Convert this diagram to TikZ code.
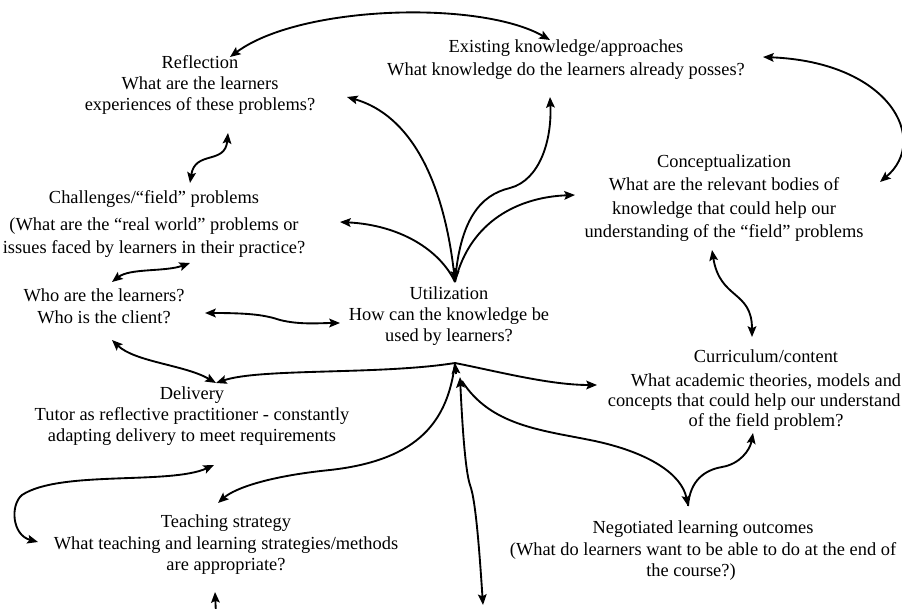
\documentclass[tikz,border=0pt]{standalone}
\usepackage{fontspec}
\setmainfont{Liberation Serif}
\usetikzlibrary{arrows.meta}
\begin{document}
\begin{tikzpicture}[x=0.75pt,y=-0.75pt,
  >={Stealth[length=8pt,width=6.5pt,inset=1.5pt]},
  txt/.style={align=center, inner sep=0pt, font=\fontsize{13.8}{#1}\selectfont},
  txt/.default=16.2,
  link/.style={line width=1.4pt, ->},
  twoway/.style={line width=1.4pt, <->}]
\useasboundingbox (0,0) rectangle (902,609);
\clip (0,0) rectangle (902,609);

% ---- text blocks ----
\node[txt=16.1] (refl) at (200,85) {Reflection\\What are the learners\\experiences of these problems?};
\node[txt=17.3] (exist) at (566,59.5) {Existing knowledge/approaches\\What knowledge do the learners already posses?};
\node[txt=17.5] (concept) at (724,198) {Conceptualization\\What are the relevant bodies of\\knowledge that could help our\\understanding of the ``field'' problems};
\node[txt=17.3] (chall) at (154,224) {Challenges/``field'' problems\\[3pt](What are the ``real world'' problems or\\issues faced by learners in their practice?};
\node[txt=16.5] (who) at (104,306) {Who are the learners?\\Who is the client?};
\node[txt=16] (util) at (449,316) {Utilization\\How can the knowledge be\\used by learners?};
\node[txt=15.8] (deliv) at (192,416) {Delivery\\Tutor as reflective practitioner - constantly\\adapting delivery to meet requirements};
\node[txt=14.8] (curric) at (766,390) {Curriculum/content\\[3pt]What academic theories, models and\\concepts that could help our understand\phantom{ing}\\of the field problem?};
\node[txt=16.1] (teach) at (226,545) {Teaching strategy\\What teaching and learning strategies/methods\\are appropriate?};
\node[txt=16.1] (neg) at (703,551) {Negotiated learning outcomes\\(What do learners want to be able to do at the end of\\the course?)\hspace*{18pt}};

% ---- connector ends ----
\coordinate (hubU) at (455,282);
\coordinate (hubL) at (455,363);
\coordinate (hubV) at (460,377);
\coordinate (reflTop) at (230,57);
\coordinate (reflSide) at (347,97);
\coordinate (reflFoot) at (228,133);
\coordinate (existTop) at (550,40);
\coordinate (existFoot) at (550,97);
\coordinate (existSide) at (763,57);
\coordinate (conceptSide) at (575,195);
\coordinate (conceptTop) at (880,182);
\coordinate (conceptFoot) at (712,250);
\coordinate (challTop) at (190,183);
\coordinate (challSide) at (340,222);
\coordinate (challFoot) at (190,263);
\coordinate (whoTop) at (112,282);
\coordinate (whoSide) at (205,313);
\coordinate (whoFoot) at (112,340);
\coordinate (utilSide) at (340,323);
\coordinate (delivTop) at (216,383);
\coordinate (delivFoot) at (214,465);
\coordinate (curricTop) at (752,337);
\coordinate (curricSide) at (597,385);
\coordinate (curricFoot) at (753,433);
\coordinate (teachTop) at (218,503);
\coordinate (teachSide) at (38,542);
\coordinate (teachFoot) at (215,592);
\coordinate (teachEdge) at (216,615);
\coordinate (negTop) at (688,506);
\coordinate (bottomEnd) at (483,605);

% ---- upper hub: Utilization ----
\draw[link] (hubU) .. controls (445,180) and (410,115) .. (reflSide);
\draw[link] (hubU) .. controls (460,220) and (480,195) .. (510,188)
                   .. controls (540,180) and (552,140) .. (existFoot);
\draw[link] (hubU) .. controls (470,220) and (520,197) .. (conceptSide);
\draw[link] (hubU) .. controls (440,250) and (400,225) .. (challSide);
\draw[link] (455,268) -- (hubU);

% ---- lower hub ----
\draw[link] (hubL) .. controls (380,375) and (260,368) .. (delivTop);
\draw[link] (hubL) .. controls (500,372) and (550,385) .. (curricSide);
\draw[link] (hubL) .. controls (448,420) and (420,460) .. (330,470)
                   .. controls (270,476) and (235,488) .. (teachTop);
\draw[link] (456,374) -- (hubL);
\draw[twoway] (hubV) .. controls (462,420) and (465,470) .. (470,485)
                     .. controls (476,500) and (480,560) .. (bottomEnd);
\draw[link] (462,381) .. controls (490,425) and (540,430) .. (590,440)
                      .. controls (650,452) and (682,475) .. (negTop);
\draw[link] (negTop) .. controls (690,480) and (705,470) .. (722,467)
                     .. controls (740,464) and (750,450) .. (curricFoot);

% ---- outer links ----
\draw[twoway] (reflTop) .. controls (300,5) and (480,0) .. (existTop);
\draw[twoway] (existSide) .. controls (890,62) and (930,140) .. (conceptTop);
\draw[twoway] (conceptFoot) .. controls (720,300) and (752,290) .. (curricTop);
\draw[twoway] (challTop) .. controls (195,150) and (225,165) .. (reflFoot);
\draw[twoway] (whoTop) .. controls (130,268) and (165,272) .. (challFoot);
\draw[twoway] (whoSide) .. controls (250,313) and (265,315) .. (280,320)
                        .. controls (300,325) and (320,323) .. (utilSide);
\draw[twoway] (whoFoot) .. controls (135,362) and (185,365) .. (delivTop);
\draw[twoway] (delivFoot) .. controls (170,485) and (60,470) .. (22,495)
                          .. controls (10,505) and (12,535) .. (teachSide);
\draw[link] (teachEdge) -- (teachFoot);
\end{tikzpicture}
\end{document}
